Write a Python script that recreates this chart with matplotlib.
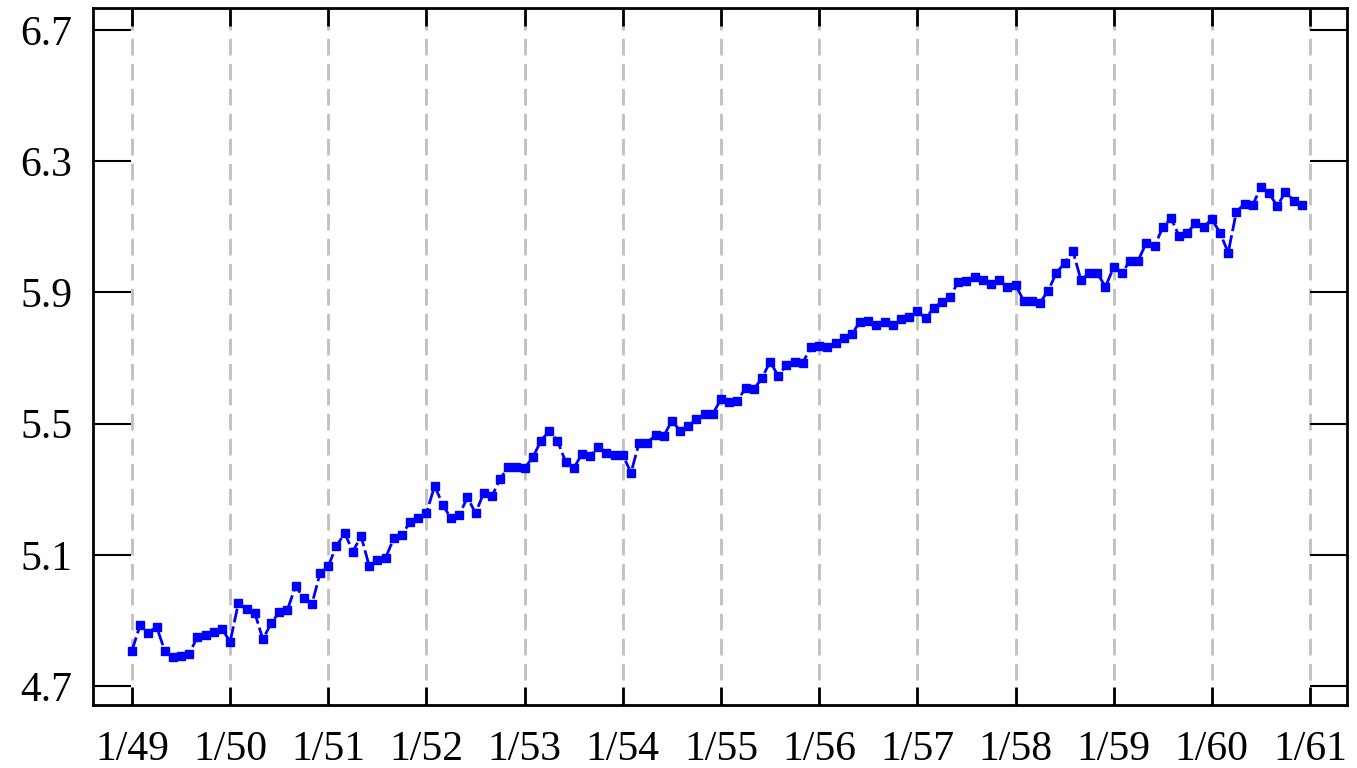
import numpy as np
import matplotlib
matplotlib.use('Agg')
import matplotlib.pyplot as plt

# log passengers, seasonally adjusted, monthly 1/49 .. 12/60
y1949 = [4.808, 4.886, 4.862, 4.881, 4.808, 4.789, 4.791, 4.798, 4.850, 4.855, 4.866, 4.874]
y1950 = [4.835, 4.952, 4.934, 4.924, 4.842, 4.891, 4.925, 4.932, 5.005, 4.967, 4.950, 5.045]
y1951 = [5.066, 5.127, 5.166, 5.110, 5.157, 5.066, 5.084, 5.091, 5.150, 5.160, 5.201, 5.211]
y1952 = [5.228, 5.310, 5.252, 5.211, 5.221, 5.275, 5.227, 5.289, 5.279, 5.331, 5.368, 5.367]
y1953 = [5.365, 5.397, 5.448, 5.478, 5.448, 5.384, 5.364, 5.407, 5.401, 5.430, 5.411, 5.404]
y1954 = [5.404, 5.350, 5.442, 5.442, 5.465, 5.462, 5.509, 5.478, 5.493, 5.513, 5.529, 5.530]
y1955 = [5.574, 5.567, 5.570, 5.608, 5.605, 5.638, 5.689, 5.645, 5.679, 5.689, 5.686, 5.733]
y1956 = [5.737, 5.735, 5.745, 5.760, 5.773, 5.811, 5.814, 5.801, 5.811, 5.801, 5.820, 5.826]
y1957 = [5.843, 5.821, 5.852, 5.872, 5.885, 5.933, 5.936, 5.946, 5.938, 5.926, 5.938, 5.916]
y1958 = [5.923, 5.875, 5.875, 5.869, 5.905, 5.960, 5.989, 6.027, 5.938, 5.958, 5.958, 5.917]
y1959 = [5.977, 5.958, 5.997, 5.997, 6.052, 6.041, 6.098, 6.126, 6.072, 6.082, 6.111, 6.100]
y1960 = [6.123, 6.082, 6.021, 6.146, 6.170, 6.166, 6.222, 6.202, 6.163, 6.207, 6.180, 6.166]

values = y1949 + y1950 + y1951 + y1952 + y1953 + y1954 + y1955 + y1956 + y1957 + y1958 + y1959 + y1960
months = np.arange(len(values))
tick_labels = ['1/49', '1/50', '1/51', '1/52', '1/53', '1/54', '1/55', '1/56',
               '1/57', '1/58', '1/59', '1/60', '1/61']
y_ticks = [4.7, 5.1, 5.5, 5.9, 6.3, 6.7]

plt.rcParams['font.family'] = ['Liberation Serif', 'DejaVu Serif']

fig = plt.figure(figsize=(13.57, 7.68), dpi=100)
ax = fig.add_axes([0.0685, 0.082, 0.924, 0.9076])

ax.plot(months, values, color='#0000ff', linestyle=(0, (5, 1.5)), linewidth=2,
        marker='s', markersize=6, zorder=3)

ax.set_xlim(-4.77, 148.5)
ax.set_ylim(4.642, 6.767)

ax.set_xticks(np.arange(0, 145, 12))
ax.set_xticklabels(tick_labels)
ax.set_yticks(y_ticks)
ax.set_yticklabels(['%.1f' % v for v in y_ticks])

ax.grid(axis='x', color='#c0c0c0', linestyle=(0, (6, 3)), linewidth=2)
ax.set_axisbelow(True)

ax.tick_params(axis='y', direction='in', length=27, width=1.5, labelsize=30,
               left=True, right=True, pad=15)
ax.tick_params(axis='x', direction='in', length=13, width=2, labelsize=30,
               bottom=True, top=True, pad=18)

for s in ax.spines.values():
    s.set_linewidth(2)

plt.savefig('out.png')
